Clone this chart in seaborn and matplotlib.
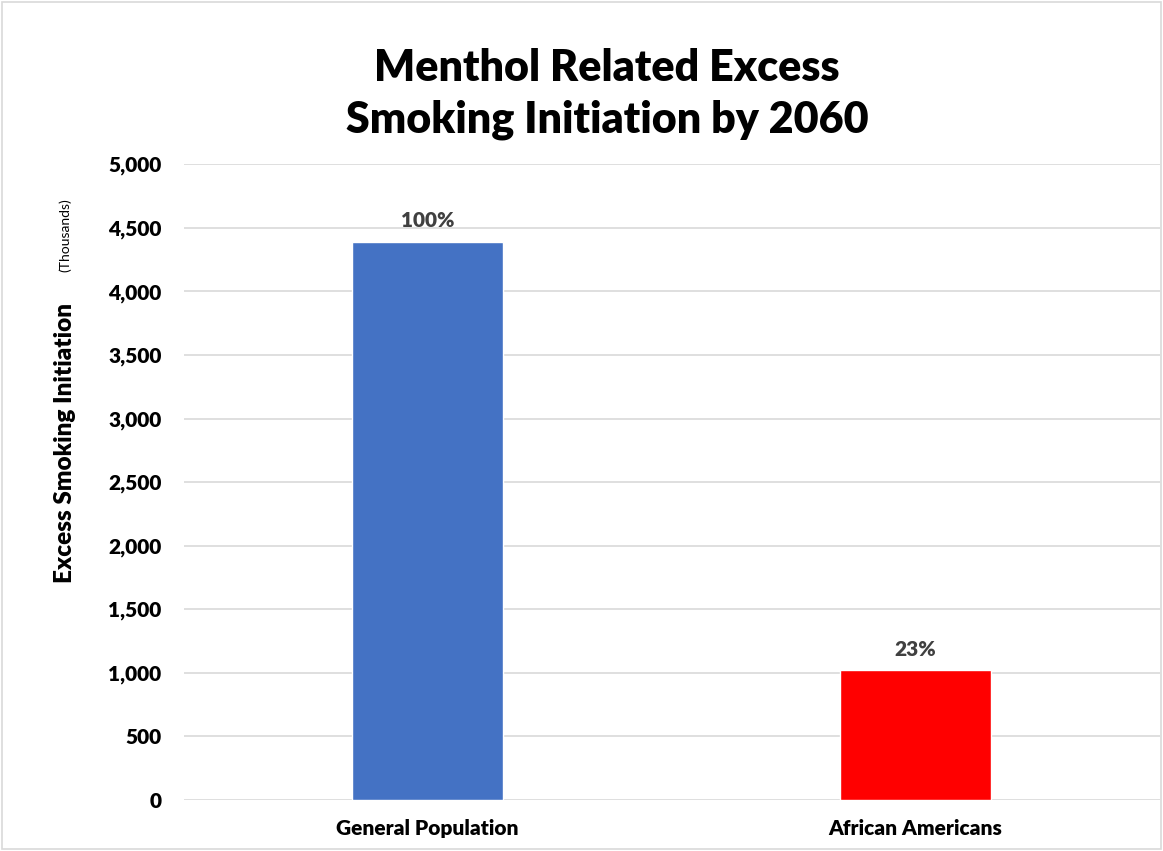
import matplotlib
matplotlib.use("Agg")
import matplotlib.pyplot as plt
from matplotlib.patches import Rectangle
import seaborn as sns
import pandas as pd

# Chart data
categories = ["General Population", "African Americans"]
excess_initiation = [4390, 1020]  # thousands
share_labels = ["100%", "23%"]
bar_colors = ["#4472C4", "#FF0000"]
y_ticks = [0, 500, 1000, 1500, 2000, 2500, 3000, 3500, 4000, 4500, 5000]

sns.set_theme(style="white")
plt.rcParams["font.family"] = ["Lato", "DejaVu Sans"]
plt.rcParams["text.color"] = "black"

df = pd.DataFrame({"group": categories, "value": excess_initiation})

fig = plt.figure(figsize=(11.63, 8.51), dpi=100)
ax = fig.add_axes([0.158, 0.06, 0.839, 0.747])

sns.barplot(data=df, x="group", y="value", hue="group", palette=bar_colors,
            width=0.31, legend=False, ax=ax, saturation=1)

# Tidy axes
ax.set_ylim(0, 5000)
ax.set_yticks(y_ticks)
ax.set_yticklabels([f"{t:,}" for t in y_ticks], fontsize=15, fontweight="heavy",
                   color="black")
ax.set_xticks(range(len(categories)))
ax.set_xticklabels(categories, fontsize=15, fontweight="heavy", color="black")
ax.tick_params(axis="y", length=0, pad=16)
ax.tick_params(axis="x", length=0, pad=14)
ax.set_xlabel("")
ax.set_ylabel("")
ax.yaxis.grid(True, color="#D9D9D9", linewidth=1.2)
ax.set_axisbelow(True)
for s in ax.spines.values():
    s.set_visible(False)

# Bar labels
for i, (v, lab) in enumerate(zip(excess_initiation, share_labels)):
    ax.text(i, v + 90, lab, ha="center", va="bottom", fontsize=15,
            fontweight="heavy", color="#404040")

# Title and axis titles
fig.text(0.522, 0.89, "Menthol Related Excess\nSmoking Initiation by 2060",
         ha="center", va="center", fontsize=31, fontweight="heavy",
         linespacing=1.35)
fig.text(0.056, 0.48, "Excess Smoking Initiation", rotation=90,
         ha="center", va="center", fontsize=17.5, fontweight="heavy")
fig.text(0.056, 0.724, "(Thousands)", rotation=90,
         ha="center", va="center", fontsize=10)

# Light outer frame
fig.patches.append(Rectangle((0.002, 0.002), 0.996, 0.996, transform=fig.transFigure,
                             fill=False, edgecolor="#D9D9D9", linewidth=1.2))

fig.savefig("out.png", dpi=100, facecolor="white")
